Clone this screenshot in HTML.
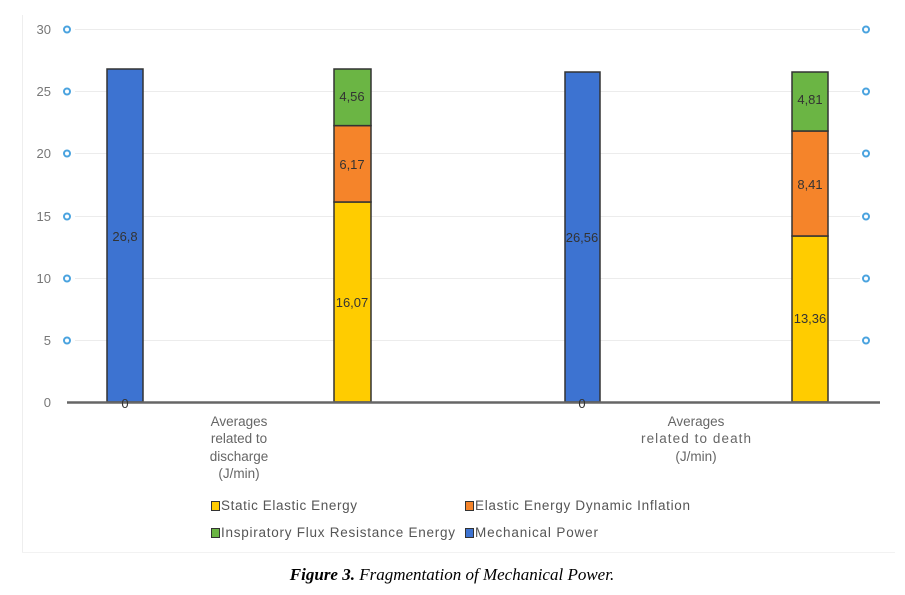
<!DOCTYPE html><html><head><style>body{margin:0;background:#fff;}</style></head><body>
<svg width="905" height="590" xmlns="http://www.w3.org/2000/svg" font-family="Liberation Sans, sans-serif">
<rect width="905" height="590" fill="#fff"/>
<line x1="22.5" y1="15" x2="22.5" y2="552" stroke="#eee"/>
<line x1="22" y1="552.5" x2="895" y2="552.5" stroke="#f2f2f2"/>
<g stroke="#ececec" stroke-width="1">
<line x1="75" y1="29.5" x2="860" y2="29.5"/><line x1="75" y1="91.5" x2="860" y2="91.5"/><line x1="75" y1="153.5" x2="860" y2="153.5"/><line x1="75" y1="216.5" x2="860" y2="216.5"/><line x1="75" y1="278.5" x2="860" y2="278.5"/><line x1="75" y1="340.5" x2="860" y2="340.5"/>
</g>
<g fill="none" stroke="#4aa3df" stroke-width="2">
<circle cx="67" cy="29.5" r="3"/><circle cx="67" cy="91.5" r="3"/><circle cx="67" cy="153.5" r="3"/><circle cx="67" cy="216.5" r="3"/><circle cx="67" cy="278.5" r="3"/><circle cx="67" cy="340.5" r="3"/>
<circle cx="866" cy="29.5" r="3"/><circle cx="866" cy="91.5" r="3"/><circle cx="866" cy="153.5" r="3"/><circle cx="866" cy="216.5" r="3"/><circle cx="866" cy="278.5" r="3"/><circle cx="866" cy="340.5" r="3"/>
</g>
<g fill="#777" font-size="13" text-anchor="end">
<text x="51" y="34">30</text><text x="51" y="96">25</text><text x="51" y="158">20</text><text x="51" y="221">15</text><text x="51" y="283">10</text><text x="51" y="345">5</text><text x="51" y="407">0</text>
</g>
<g stroke="#333" stroke-width="1.5">
<rect x="107" y="69" width="36" height="333" fill="#3d73d1"/>
<rect x="334" y="202" width="37" height="200" fill="#ffcc00"/>
<rect x="334" y="125.6" width="37" height="76.4" fill="#f5842a"/>
<rect x="334" y="69" width="37" height="56.6" fill="#6bb544"/>
<rect x="565" y="72" width="35" height="330" fill="#3d73d1"/>
<rect x="792" y="236" width="36" height="166" fill="#ffcc00"/>
<rect x="792" y="131" width="36" height="105" fill="#f5842a"/>
<rect x="792" y="72" width="36" height="59" fill="#6bb544"/>
</g>
<line x1="67" y1="402.5" x2="880" y2="402.5" stroke="#666" stroke-width="2.5"/>
<g fill="#333" font-size="13" text-anchor="middle">
<text x="125" y="241">26,8</text><text x="125" y="408">0</text>
<text x="352" y="101">4,56</text><text x="352" y="169">6,17</text><text x="352" y="307">16,07</text>
<text x="582" y="242">26,56</text><text x="582" y="408">0</text>
<text x="810" y="104">4,81</text><text x="810" y="189">8,41</text><text x="810" y="323">13,36</text>
</g>
<g fill="#666" font-size="13.5" text-anchor="middle">
<text x="239" y="426">Averages</text><text x="239" y="443">related to</text><text x="239" y="461">discharge</text><text x="239" y="478">(J/min)</text>
<text x="696" y="426">Averages</text><text x="696" y="443" textLength="110">related to death</text><text x="696" y="461">(J/min)</text>
</g>
<g stroke="#333" stroke-width="1">
<rect x="211.5" y="501.5" width="8" height="9" fill="#ffcc00"/>
<rect x="465.5" y="501.5" width="8" height="9" fill="#f5842a"/>
<rect x="211.5" y="528.5" width="8" height="9" fill="#6bb544"/>
<rect x="465.5" y="528.5" width="8" height="9" fill="#3d73d1"/>
</g>
<g fill="#555" font-size="13.5">
<text x="221" y="510" textLength="136">Static Elastic Energy</text>
<text x="475" y="510" textLength="215">Elastic Energy Dynamic Inflation</text>
<text x="221" y="537" textLength="234">Inspiratory Flux Resistance Energy</text>
<text x="475" y="537" textLength="123">Mechanical Power</text>
</g>
<text x="452" y="580" text-anchor="middle" font-family="Liberation Serif, serif" font-style="italic" font-size="17"><tspan font-weight="bold">Figure 3.</tspan> Fragmentation of Mechanical Power.</text>
</svg>
</body></html>
